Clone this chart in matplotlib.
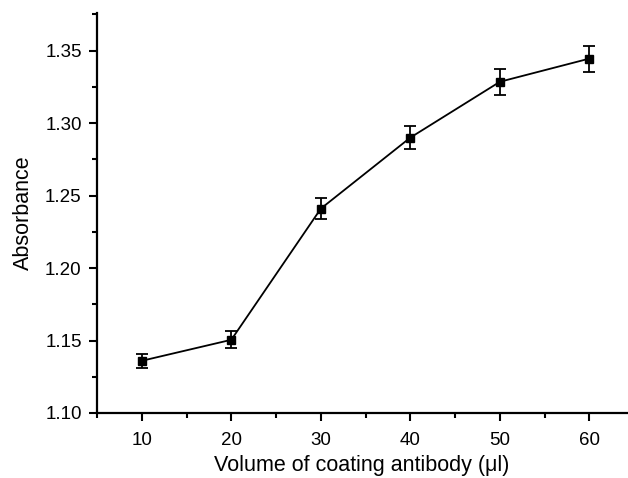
import matplotlib
matplotlib.use('Agg')
import matplotlib.pyplot as plt
from matplotlib.ticker import MultipleLocator

plt.rcParams['font.family'] = ['Liberation Sans', 'DejaVu Sans']

# data
volume = [10, 20, 30, 40, 50, 60]
absorbance = [1.136, 1.1505, 1.241, 1.290, 1.3285, 1.3445]
error = [0.0048, 0.006, 0.0075, 0.0082, 0.009, 0.009]

fig = plt.figure(figsize=(6.28, 4.78), dpi=100)
ax = fig.add_axes([0.1545, 0.136, 0.844, 0.837])

ax.errorbar(volume, absorbance, yerr=error, color='black', marker='s',
            markersize=6, linewidth=1.3, elinewidth=1.3, capsize=4,
            capthick=1.3)

ax.set_xlim(5, 64.2)
ax.set_ylim(1.10, 1.376)
ax.xaxis.set_major_locator(MultipleLocator(10))
ax.xaxis.set_minor_locator(MultipleLocator(5))
ax.yaxis.set_major_locator(MultipleLocator(0.05))
ax.yaxis.set_minor_locator(MultipleLocator(0.025))
ax.yaxis.set_major_formatter(plt.FormatStrFormatter('%.2f'))

for s in ['top', 'right']:
    ax.spines[s].set_visible(False)
for s in ['left', 'bottom']:
    ax.spines[s].set_linewidth(1.6)

ax.tick_params(which='major', direction='out', length=6, width=1.5, labelsize=13.5, pad=5)
ax.tick_params(which='minor', direction='out', length=3.5, width=1.5)
ax.tick_params(axis='x', which='major', pad=8)

ax.set_xlabel('Volume of coating antibody (\u03bcl)', fontsize=15.5, labelpad=4)
ax.set_ylabel('Absorbance', fontsize=15.5, labelpad=8)

fig.savefig('out.png', dpi=100)
